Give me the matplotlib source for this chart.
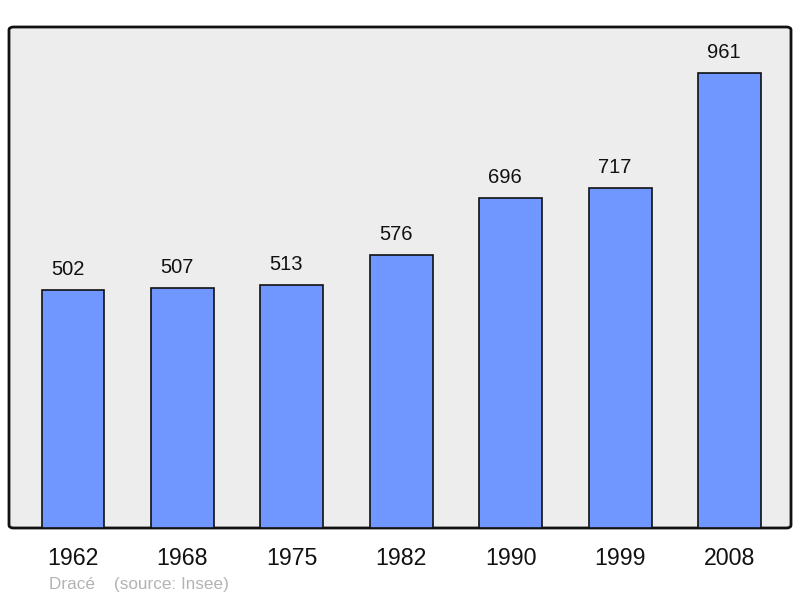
import matplotlib
matplotlib.use("Agg")
from matplotlib import pyplot as plt
from matplotlib.patches import FancyBboxPatch

years = ["1962", "1968", "1975", "1982", "1990", "1999", "2008"]
population = [502, 507, 513, 576, 696, 717, 961]

plt.rcParams['font.family'] = ['Liberation Sans', 'DejaVu Sans']

fig = plt.figure(figsize=(8.0, 5.98), dpi=100)
ax = fig.add_axes([9 / 800, 70 / 598, 782 / 800, 501 / 598])
ax.set_facecolor('none')
for s in ax.spines.values():
    s.set_visible(False)

# rounded panel behind the bars
panel = FancyBboxPatch((0, 0), 1, 1, boxstyle="round,pad=0,rounding_size=0.006",
                       transform=ax.transAxes, facecolor='#ededed',
                       edgecolor='#111111', linewidth=2, zorder=0, clip_on=False)
ax.add_patch(panel)

x = list(range(len(years)))
ax.bar(x, population, width=0.575, color='#7097ff', edgecolor='#111111',
       linewidth=1.2, zorder=2)

# value labels sit a little left of the bar centre
for xi, v in zip(x, population):
    ax.text(xi - 0.05, v + 44, str(v), ha='center', va='center', fontsize=14.5,
            color='#111111')

ax.set_xlim(-0.585, 6.56)
ax.set_ylim(0, 1058)
ax.set_xticks(x)
ax.set_xticklabels(years, fontsize=16.7, color='#111111')
ax.tick_params(axis='x', length=0, pad=14)
ax.set_yticks([])

fig.text(49 / 800, 1 - 584 / 598, "Dracé    (source: Insee)", fontsize=12.3,
         color='#b3b3b3', ha='left', va='center')

plt.savefig('out.png', dpi=100)
plt.close()
